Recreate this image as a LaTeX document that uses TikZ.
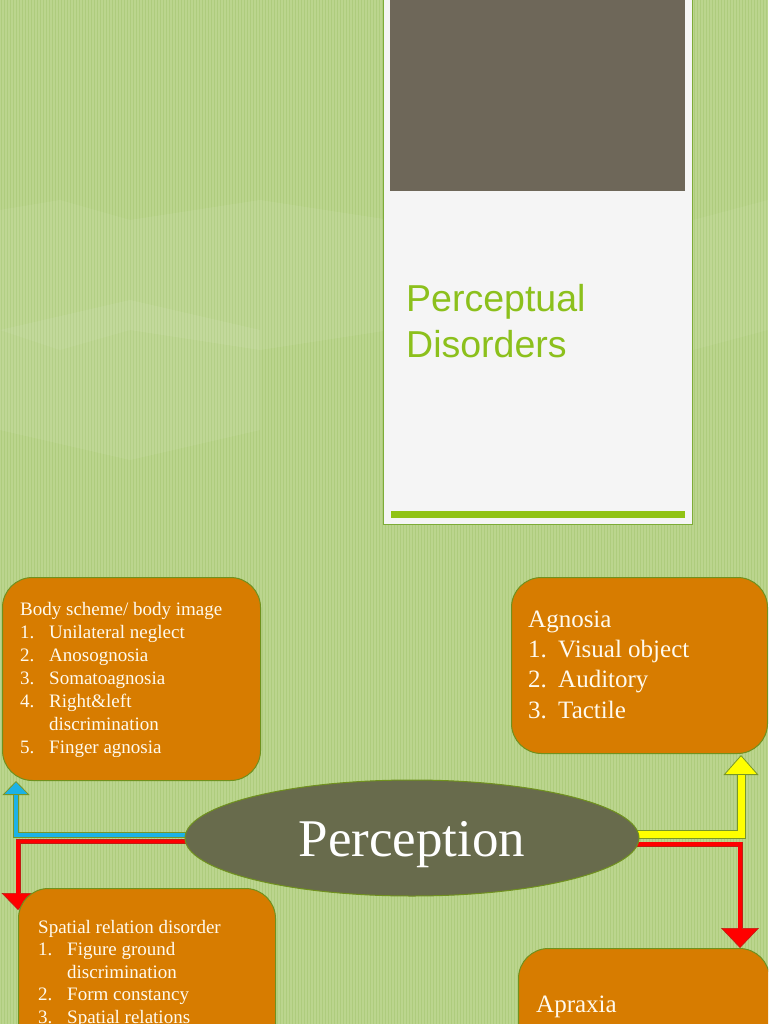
\documentclass[tikz,border=0pt]{standalone}
\usepackage{fontspec}
\setmainfont{Liberation Serif}
\newfontfamily\titlefont{Liberation Sans}
\usetikzlibrary{shapes.geometric,arrows.meta}
\definecolor{bggreen}{RGB}{187,213,142}
\definecolor{stripegreen}{RGB}{166,198,115}
\definecolor{cardfill}{RGB}{245,245,245}
\definecolor{cardline}{RGB}{125,172,55}
\definecolor{photogray}{RGB}{110,103,89}
\definecolor{barg}{RGB}{145,195,20}
\definecolor{titleg}{RGB}{140,192,28}
\definecolor{boxfill}{RGB}{215,124,0}
\definecolor{boxline}{RGB}{112,145,30}
\definecolor{percfill}{RGB}{104,107,76}
\definecolor{txtw}{RGB}{255,250,238}
\definecolor{arrblue}{RGB}{28,178,230}
\definecolor{arryel}{RGB}{255,255,0}
\definecolor{arrred}{RGB}{255,0,0}
\definecolor{arrline}{RGB}{120,150,40}
\definecolor{redline}{RGB}{190,30,20}
\pgfdeclarelayer{bg}
\pgfdeclarelayer{conn}
\pgfsetlayers{bg,conn,main}
\newcommand\itm[2]{\makebox[29pt][l]{#1}#2}
\newcommand\itmb[2]{\makebox[30pt][l]{#1}#2}
\begin{document}
\begin{tikzpicture}[x=1pt,y=-1pt,
  box/.style={draw=boxline, line width=1pt, fill=boxfill, rounded corners=30pt, inner sep=0pt, anchor=north west},
  listtxt/.style={text=txtw, align=left, inner sep=0pt, anchor=north west},
  smalltxt/.style={listtxt, font=\fontsize{19}{23}\selectfont},
  bigtxt/.style={listtxt, font=\fontsize{25}{30.3}\selectfont},
  stripe/.style={stripegreen, line width=0.9pt, opacity=0.6},
  conn/.style={line join=miter, line cap=butt}
]
\useasboundingbox (0,0) rectangle (768,1024);
\clip (0,0) rectangle (768,1024);

\begin{pgfonlayer}{bg}
  \fill[bggreen] (0,0) rectangle (768,1024);
  \foreach \x in {1,4,...,768} \draw[stripe] (\x,0) -- (\x,1024);
  \fill[white, opacity=0.07] (0,330) -- (130,300) -- (260,330) -- (260,430) -- (130,460) -- (0,430) -- cycle;
  \fill[white, opacity=0.07] (130,220) -- (260,200) -- (390,220) -- (390,330) -- (260,350) -- (130,330) -- cycle;
  \fill[white, opacity=0.06] (0,210) -- (60,200) -- (130,220) -- (130,330) -- (60,350) -- (0,330) -- cycle;
  \fill[white, opacity=0.06] (693,220) -- (768,200) -- (768,330) -- (693,350) -- cycle;
\end{pgfonlayer}

% title card
\node[draw=cardline, line width=1.2pt, fill=cardfill, anchor=north west, minimum width=309pt, minimum height=526pt, inner sep=0pt] (card) at (383,-2) {};
\node[fill=photogray, anchor=north west, minimum width=295pt, minimum height=193pt, inner sep=0pt] (photo) at (390,-2) {};
\node[fill=barg, anchor=north west, minimum width=294pt, minimum height=6.5pt, inner sep=0pt] (bar) at (391,511) {};
\node[anchor=north west, inner sep=0pt, align=left, text=titleg, font=\titlefont\fontsize{37.5}{46}\selectfont] (title) at (406,284) {Perceptual\\Disorders};

% boxes
\node[box, minimum width=258pt, minimum height=203pt] (b1) at (2,577) {};
\node[box, minimum width=256pt, minimum height=176pt] (b2) at (511,577) {};
\node[box, minimum width=257pt, minimum height=220pt] (b3) at (18,888) {};
\node[box, minimum width=251pt, minimum height=160pt] (b4) at (518,948) {};

\node[smalltxt] (t1) at (20,602) {Body scheme/ body image\\
\itm{1.}{Unilateral neglect}\\
\itm{2.}{Anosognosia}\\
\itm{3.}{Somatoagnosia}\\
\itm{4.}{Right\&left}\\
\hspace*{29pt}discrimination\\
\itm{5.}{Finger agnosia}};

\node[bigtxt] (t2) at (528,610.5) {Agnosia\\
\itmb{1.}{Visual object}\\
\itmb{2.}{Auditory}\\
\itmb{3.}{Tactile}};

\node[listtxt, font=\fontsize{19}{22.5}\selectfont] (t3) at (38,920) {Spatial relation disorder\\
\itm{1.}{Figure ground}\\
\hspace*{29pt}discrimination\\
\itm{2.}{Form constancy}\\
\itm{3.}{Spatial relations}};

\node[text=txtw, inner sep=0pt, anchor=base west, font=\fontsize{25}{30}\selectfont] (t4) at (536,1012) {Apraxia};

% central ellipse
\node[ellipse, draw=boxline, line width=1pt, fill=percfill, minimum width=454pt, minimum height=116pt, inner sep=0pt, text=white, text height=36pt, text depth=0pt, font=\fontsize{53}{60}\selectfont] (perc) at (412,838) {Perception};

% connector end points
\coordinate (bt) at (16,781);
\coordinate (rlt) at (18,910);
\coordinate (yt) at (741,755);
\coordinate (rrt) at (740,948);

\begin{pgfonlayer}{conn}
  % blue to body scheme
  \draw[conn, arrline, line width=6.5pt, -{Triangle[width=27pt,length=14pt,line width=0.8pt,fill=arrblue,color=arrline]}] ([yshift=3pt]perc.center) -| (bt);
  \draw[conn, arrblue, line width=4.6pt, shorten >=13.5pt] ([yshift=3pt]perc.center) -| (bt);
  % red to spatial relation
  \draw[conn, redline, line width=5pt, -{Triangle[width=33pt,length=17pt,line width=0.6pt,fill=arrred,color=redline]}] ([yshift=-3.5pt]perc.center) -| (rlt);
  \draw[conn, arrred, line width=3.6pt, shorten >=16.5pt] ([yshift=-3.5pt]perc.center) -| (rlt);
  % yellow to agnosia
  \draw[conn, arrline, line width=9pt, -{Triangle[width=35pt,length=20pt,line width=0.8pt,fill=arryel,color=arrline]}] ([yshift=4pt]perc.center) -| (yt);
  \draw[conn, arryel, line width=7pt, shorten >=19.5pt] ([yshift=4pt]perc.center) -| (yt);
  % red to apraxia
  \draw[conn, redline, line width=5pt, -{Triangle[width=38pt,length=20pt,line width=0.6pt,fill=arrred,color=redline]}] ([yshift=-6pt]perc.center) -| (rrt);
  \draw[conn, arrred, line width=3.6pt, shorten >=19.5pt] ([yshift=-6pt]perc.center) -| (rrt);
\end{pgfonlayer}
\end{tikzpicture}
\end{document}
